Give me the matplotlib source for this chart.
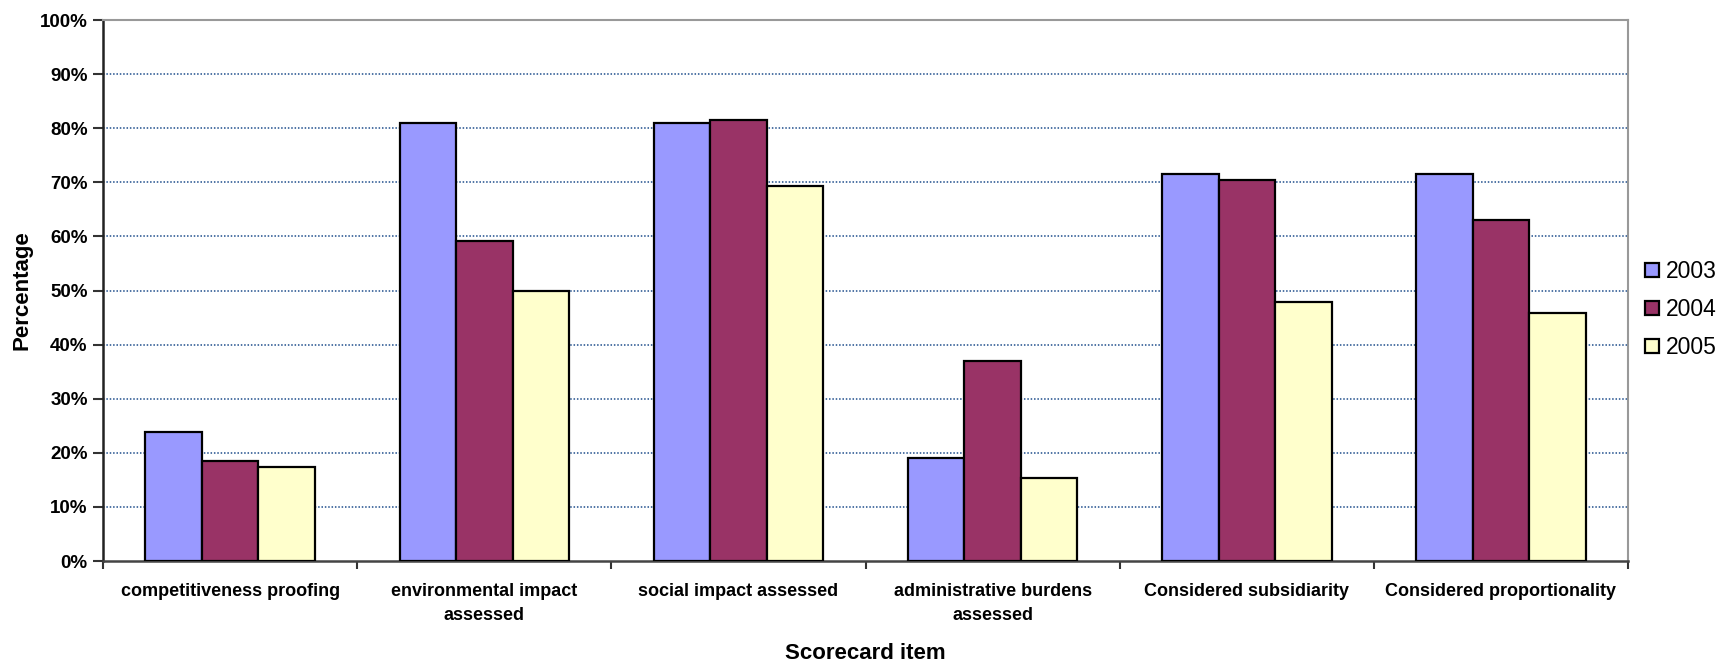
import matplotlib.pyplot as plt
from matplotlib.ticker import FuncFormatter, FixedLocator
import numpy as np

plt.rcParams['font.family'] = ['Liberation Sans', 'DejaVu Sans']

categories = ['competitiveness proofing', 'environmental impact\nassessed',
              'social impact assessed', 'administrative burdens\nassessed',
              'Considered subsidiarity', 'Considered proportionality']
years = ['2003', '2004', '2005']
v2003 = [23.8, 81.0, 81.0, 19.1, 71.6, 71.6]
v2004 = [18.5, 59.2, 81.5, 36.9, 70.4, 63.0]
v2005 = [17.3, 50.0, 69.4, 15.3, 47.9, 45.8]
colors = ['#9999FF', '#993366', '#FFFFCC']

fig = plt.figure(figsize=(17.34, 6.69), dpi=100)
ax = fig.add_axes([0.0594, 0.1614, 0.8795, 0.8086])

x = np.arange(len(categories))
w = 1 / 4.5
for i, (vals, yr) in enumerate(zip([v2003, v2004, v2005], years)):
    ax.bar(x + (i - 1) * w, vals, w, color=colors[i], edgecolor='black',
           linewidth=1.6, label=yr, zorder=3)

ax.set_xlim(-0.5, len(categories) - 0.5)
ax.set_ylim(0, 100)
ax.set_yticks(np.arange(0, 101, 10))
ax.yaxis.set_major_formatter(FuncFormatter(lambda v, p: f'{int(v)}%'))
for yv in range(10, 100, 10):
    ax.axhline(yv, color='#1F4E8C', linestyle=(0, (1, 1.2)), linewidth=1.1, zorder=1)

ax.set_xticks(x)
ax.set_xticklabels(categories, fontweight='bold', fontsize=13, linespacing=1.5)
ax.tick_params(axis='x', length=0, pad=16)
ax.xaxis.set_minor_locator(FixedLocator(np.arange(-0.5, len(categories), 1)))
ax.tick_params(axis='x', which='minor', length=6, width=1.5, color='#333333')
ax.tick_params(axis='y', length=7, width=1.5, color='#333333', labelsize=13.5, pad=4)
for t in ax.get_yticklabels():
    t.set_fontweight('bold')

ax.spines['left'].set_color('#222222')
ax.spines['left'].set_linewidth(1.8)
ax.spines['bottom'].set_color('#444444')
ax.spines['bottom'].set_linewidth(1.8)
ax.spines['top'].set_color('#999999')
ax.spines['top'].set_linewidth(1.5)
ax.spines['right'].set_color('#999999')
ax.spines['right'].set_linewidth(1.5)

ax.set_xlabel('Scorecard item', fontweight='bold', fontsize=16, labelpad=14)
ax.set_ylabel('Percentage', fontweight='bold', fontsize=16, labelpad=5)

leg = ax.legend(loc='center left', bbox_to_anchor=(1.0, 0.465), frameon=False,
                fontsize=16.5, handlelength=0.6, handleheight=0.6,
                handletextpad=0.3, labelspacing=0.65, borderaxespad=0.35)

fig.savefig('out.png', dpi=100)
